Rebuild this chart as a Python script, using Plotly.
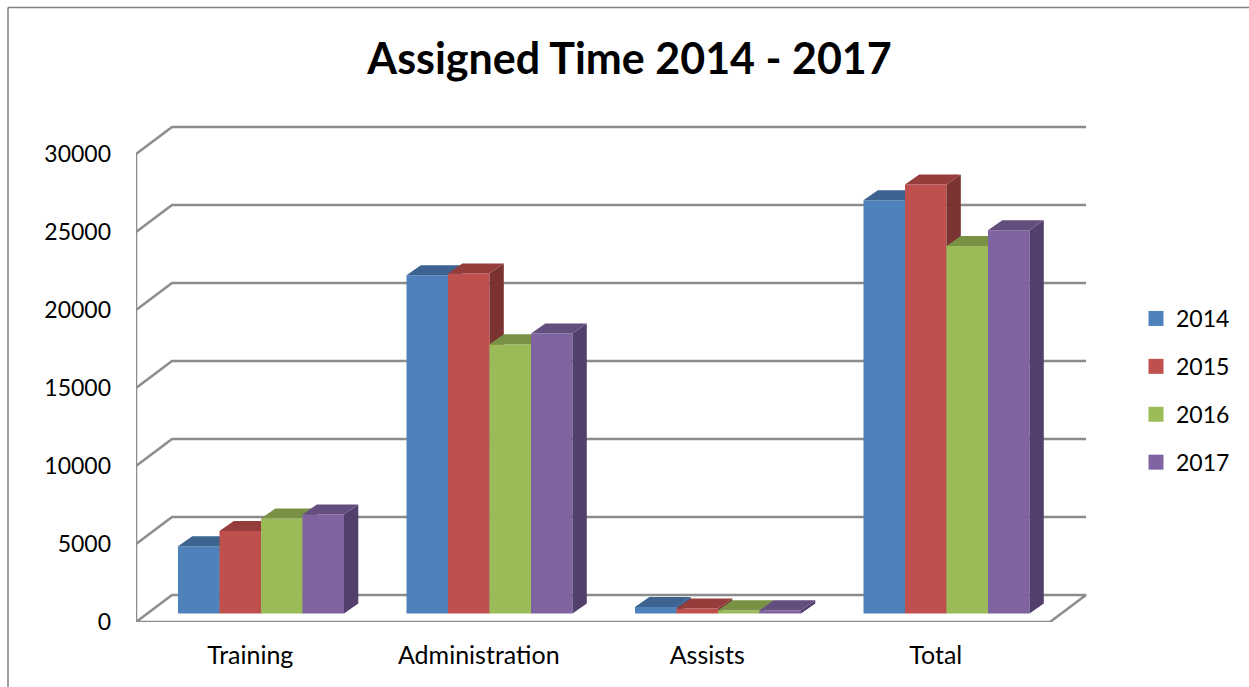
import plotly.graph_objects as go

# Data
categories = ["Training", "Administration", "Assists", "Total"]
years = ["2014", "2015", "2016", "2017"]
values_2014 = [4310, 21690, 420, 26490]
values_2015 = [5300, 21800, 320, 27500]
values_2016 = [6090, 17260, 210, 23560]
values_2017 = [6350, 17950, 210, 24570]
series = [values_2014, values_2015, values_2016, values_2017]
y_ticks = [0, 5000, 10000, 15000, 20000, 25000, 30000]

# Styles: front, top, side colour per series
front = ["#4F81BD", "#C0504D", "#9BBB59", "#8064A2"]
top = ["#3D6491", "#953D3B", "#789144", "#634E7E"]
side = ["#31507A", "#7A3331", "#5F7336", "#533F6C"]
GRID = "#8C8C8C"
FONT = "Lato"

W, H = 1249, 687
ML, MR, MT, MB = 136, 159, 120, 65
PX_X = 228.5            # pixels per category
PX_Y = 78 / 5000        # pixels per value unit
PW, PH = W - ML - MR, H - MT - MB
wall_dx, wall_dy = 36 / PX_X, 27 / PX_Y
bar_dx, bar_dy = 14.3 / PX_X, 10 / PX_Y
bar_w, bar_gap = 41.5 / PX_X, 42 / PX_X
bar_base = 8.4 / PX_Y


def paper_x(px):
    return (px - ML) / PW


def paper_y(py):
    return (H - MB - py) / PH


fig = go.Figure()

# Frame: walls, floor and gridlines
fx, fy = [0, 0, None, 0, 4, 4 + wall_dx, wall_dx, 0, None], [0, 30000, None, 0, 0, wall_dy, wall_dy, 0, None]
for v in y_ticks[1:]:
    fx += [0, wall_dx, 4 + wall_dx, None]
    fy += [v, v + wall_dy, v + wall_dy, None]
fig.add_trace(go.Scatter(x=fx, y=fy, mode="lines", line=dict(color=GRID, width=2.5),
                         showlegend=False, hoverinfo="skip"))

# One overlaid subplot per series, so later series paint over earlier ones
for s, (name, vals) in enumerate(zip(years, series)):
    suffix = str(s + 2)
    xa, ya = "x" + suffix, "y" + suffix
    lefts = [c + bar_gap + s * bar_w for c in range(len(categories))]
    fig.add_trace(go.Bar(x=[l + bar_w / 2 for l in lefts], y=vals, base=bar_base, width=bar_w,
                         marker=dict(color=front[s], line=dict(width=0)), name=name,
                         legendgroup=name, showlegend=False, xaxis=xa, yaxis=ya))
    tx, ty, sx, sy = [], [], [], []
    for l, v in zip(lefts, vals):
        r = l + bar_w
        t = bar_base + v
        tx += [l, r, r + bar_dx, l + bar_dx, l, None]
        ty += [t, t, t + bar_dy, t + bar_dy, t, None]
        sx += [r, r, r + bar_dx, r + bar_dx, r, None]
        sy += [bar_base, t, t + bar_dy, bar_base + bar_dy, bar_base, None]
    for px_, py_, col in ((sx, sy, side[s]), (tx, ty, top[s])):
        fig.add_trace(go.Scatter(x=px_, y=py_, mode="lines", fill="toself", fillcolor=col,
                                 line=dict(width=0, color=col), legendgroup=name, showlegend=False,
                                 hoverinfo="skip", xaxis=xa, yaxis=ya))
    # Legend swatch
    fig.add_trace(go.Scatter(x=[None], y=[None], mode="markers", name=name, legendgroup=name,
                             marker=dict(symbol="square", size=15, color=front[s]),
                             xaxis=xa, yaxis=ya))

x_range = [0, PW / PX_X]
y_range = [0, PH / PX_Y]
layout = dict(
    width=W, height=H, autosize=False,
    margin=dict(l=ML, r=MR, t=MT, b=MB, pad=0),
    paper_bgcolor="white", plot_bgcolor="rgba(0,0,0,0)",
    font=dict(family=FONT, size=23, color="black"),
    title=dict(text="<b>Assigned Time 2014 - 2017</b>", x=629.5 / W, xanchor="center",
               y=1 - 59 / H, yanchor="middle", font=dict(family=FONT, size=43, color="black")),
    xaxis=dict(range=x_range, tickmode="array", tickvals=[c + 0.5 for c in range(4)], ticktext=categories,
               showgrid=False, zeroline=False, showline=False, ticks="", ticklabelstandoff=16,
               tickfont=dict(family=FONT, size=25)),
    yaxis=dict(range=y_range, tickmode="array", tickvals=y_ticks, ticktext=[str(v) for v in y_ticks],
               showgrid=False, zeroline=False, showline=False, ticks="", ticklabelstandoff=24),
    legend=dict(xref="container", yref="container", x=1136 / W, xanchor="left", y=1 - 297 / H, yanchor="top",
                traceorder="grouped", tracegroupgap=15, itemsizing="trace", itemwidth=30,
                bgcolor="rgba(0,0,0,0)", font=dict(family=FONT, size=23)),
    shapes=[
        dict(type="line", xref="paper", yref="paper", x0=paper_x(8), x1=paper_x(8),
             y0=paper_y(7.5), y1=paper_y(687), line=dict(color="#7F7F7F", width=1.5)),
        dict(type="line", xref="paper", yref="paper", x0=paper_x(8), x1=paper_x(1249),
             y0=paper_y(7.5), y1=paper_y(7.5), line=dict(color="#7F7F7F", width=1.5)),
    ],
)
for s in range(4):
    suffix = str(s + 2)
    layout["xaxis" + suffix] = dict(range=x_range, overlaying="x", matches="x", visible=False)
    layout["yaxis" + suffix] = dict(range=y_range, overlaying="y", matches="y", visible=False)
fig.update_layout(**layout)

fig.write_html("out.html", config={"displayModeBar": False},
               post_script="document.body.style.margin='0';document.body.style.overflow='hidden';")
